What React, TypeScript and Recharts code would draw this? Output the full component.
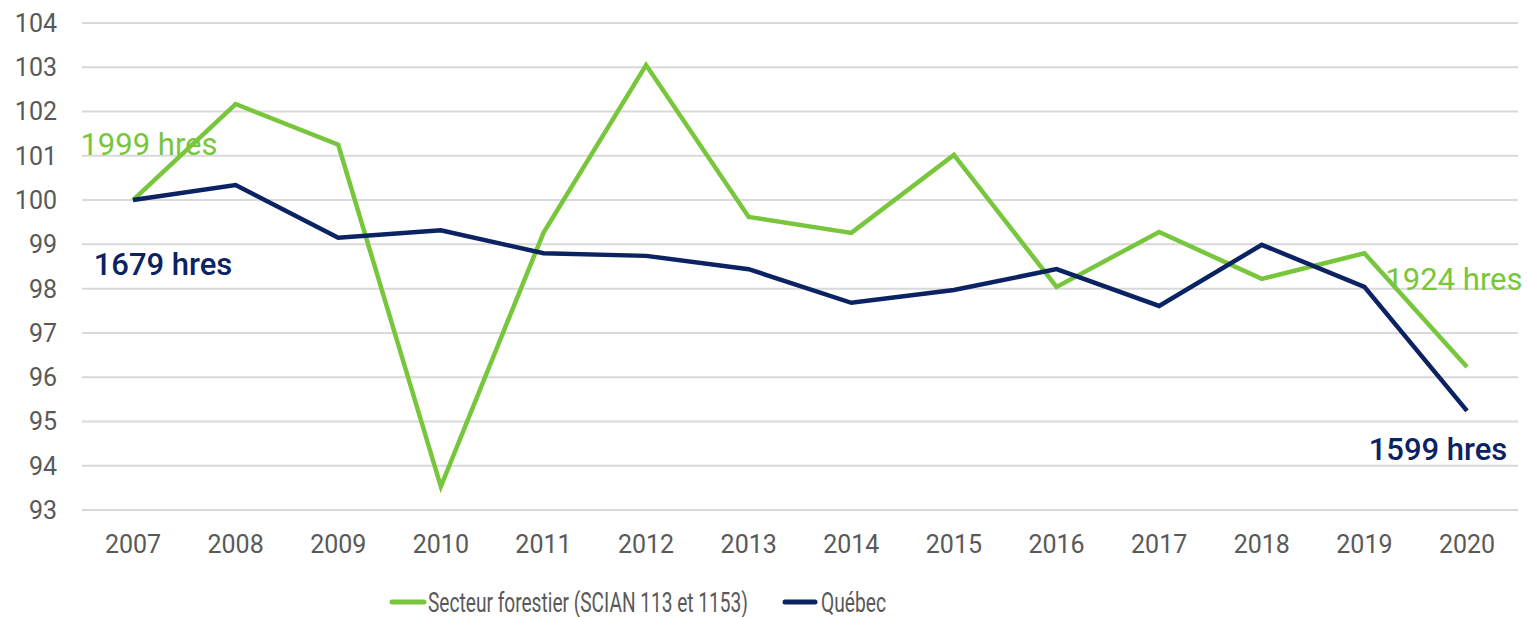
import React from "react";
import { LineChart, Line, XAxis, YAxis, CartesianGrid, Legend } from "recharts";

const years = ["2007","2008","2009","2010","2011","2012","2013","2014","2015","2016","2017","2018","2019","2020"];
const forestier = [100, 102.17, 101.25, 93.53, 99.26, 103.05, 99.62, 99.26, 101.02, 98.04, 99.28, 98.22, 98.8, 96.23];
const quebec = [100, 100.34, 99.15, 99.32, 98.8, 98.74, 98.44, 97.68, 97.97, 98.44, 97.61, 98.99, 98.04, 95.24];
const yTicks = [93, 94, 95, 96, 97, 98, 99, 100, 101, 102, 103, 104];
const forestLabels = { start: "1999 hres", end: "1924 hres" };
const quebecLabels = { start: "1679 hres", end: "1599 hres" };

const GREEN = "#77C63C";
const NAVY = "#0B2263";
const GREY = "#595959";

const data = years.map((y, i) => ({ year: y, forestier: forestier[i], quebec: quebec[i] }));

const makeLabel = (labels: { start: string; end: string }, color: string, weight: number, offs: number[][]) => (props: any) => {
  const { x, y, index } = props;
  const last = years.length - 1;
  if (index !== 0 && index !== last) return null;
  const o = index === 0 ? offs[0] : offs[1];
  return (
    <text x={x + o[0]} y={y + o[1]} fill={color} fontSize={31} fontWeight={weight} textAnchor="middle" dominantBaseline="central" fontFamily="Roboto">
      {index === 0 ? labels.start : labels.end}
    </text>
  );
};

const renderLegend = () => (
  <svg width={1528} height={30}>
    <line x1={392} y1={15} x2={424} y2={15} stroke={GREEN} strokeWidth={5} strokeLinecap="round" />
    <text x={428} y={15} fill={GREY} fontSize={28} dominantBaseline="central" fontFamily="Roboto" textLength={320} lengthAdjust="spacingAndGlyphs">Secteur forestier (SCIAN 113 et 1153)</text>
    <line x1={785} y1={15} x2={815} y2={15} stroke={NAVY} strokeWidth={5} strokeLinecap="round" />
    <text x={821} y={15} fill={GREY} fontSize={28} dominantBaseline="central" fontFamily="Roboto" textLength={65} lengthAdjust="spacingAndGlyphs">Québec</text>
  </svg>
);

export default function App() {
  return (
    <div style={{ position: "absolute", left: 0, top: 0, width: 1528, height: 617, background: "#fff", fontFamily: "Roboto" }}>
      <LineChart width={1528} height={617} data={data} margin={{ top: 23, right: 10, left: 0, bottom: 27 }}>
        <CartesianGrid vertical={false} stroke="#D9D9D9" strokeWidth={2} />
        <XAxis dataKey="year" axisLine={false} tickLine={false} height={50} padding={{ left: 51, right: 51 }} tick={{ fill: GREY, fontSize: 25 }} tickSize={0} tickMargin={25} />
        <YAxis domain={[93, 104]} ticks={yTicks} axisLine={false} tickLine={false} width={82} tickSize={0} tickMargin={25} tick={{ fill: GREY, fontSize: 25 }} interval={0} />
        <Legend verticalAlign="bottom" content={renderLegend} wrapperStyle={{ left: 0, top: 587, width: 1528, height: 30 }} />
        <Line type="linear" dataKey="forestier" stroke={GREEN} strokeWidth={4.5} dot={false} isAnimationActive={false} label={makeLabel(forestLabels, GREEN, 400, [[16, -56], [-13, -87]])} />
        <Line type="linear" dataKey="quebec" stroke={NAVY} strokeWidth={4.5} dot={false} isAnimationActive={false} label={makeLabel(quebecLabels, NAVY, 500, [[30, 64], [-29, 39]])} />
      </LineChart>
    </div>
  );
}
